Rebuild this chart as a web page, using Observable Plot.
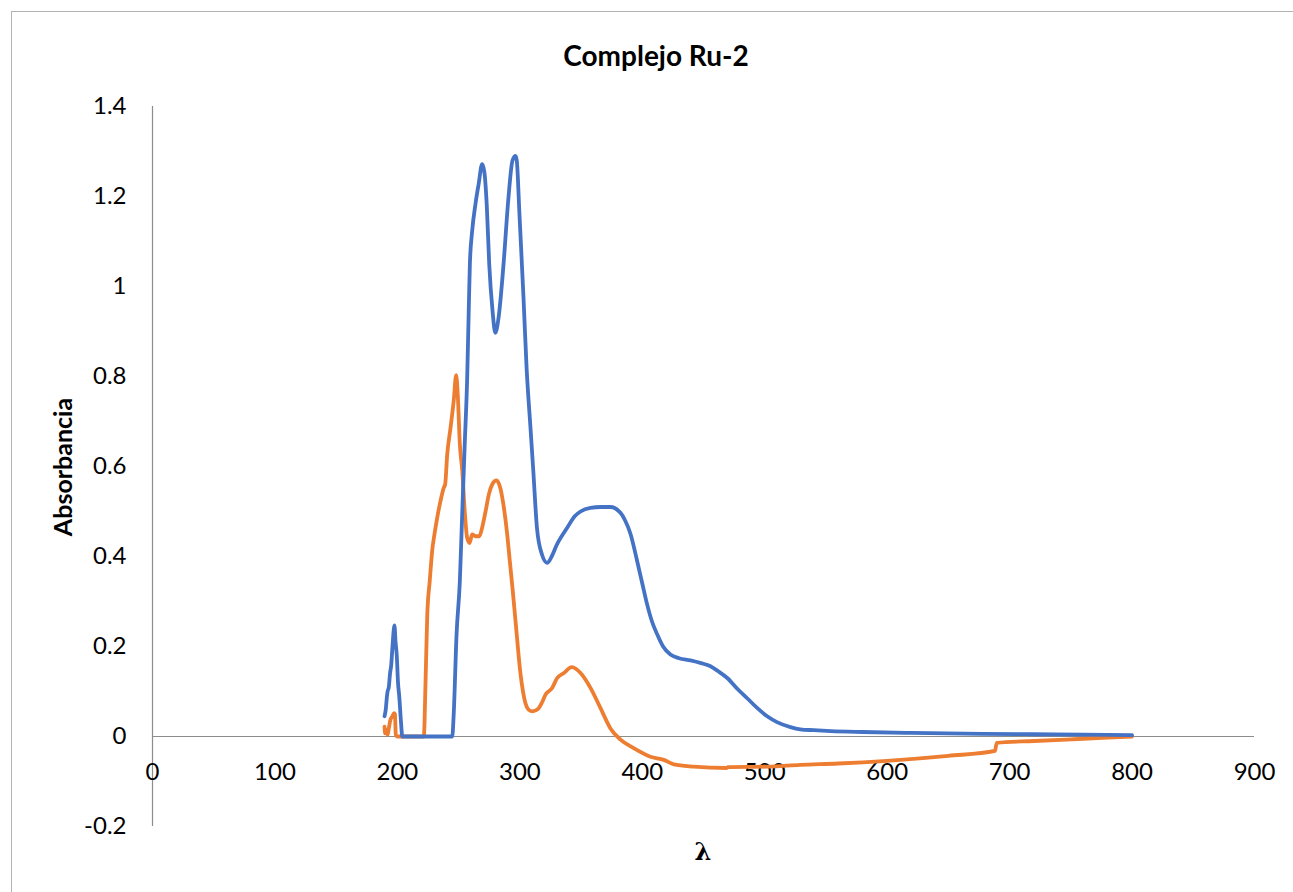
<!DOCTYPE html>
<html>
<head>
<meta charset="utf-8">
<script src="https://cdn.jsdelivr.net/npm/d3@7"></script>
<script src="https://cdn.jsdelivr.net/npm/@observablehq/plot@0.6"></script>
<style>
  html, body { margin: 0; padding: 0; background: #fff; overflow: hidden; }
  #wrap { position: relative; width: 1293px; height: 892px; font-family: Lato, "Open Sans", sans-serif; }
  #frame { position: absolute; left: 11px; top: 11px; width: 1310px; height: 910px; border: 1.5px solid #b3b3b3; box-sizing: border-box; }
  #chart { position: absolute; left: 0; top: 0; }
  .lbl { position: absolute; color: #000; font-weight: bold; white-space: nowrap; }
  #title { left: 656px; top: 55px; transform: translate(-50%, -50%); font-size: 28px; }
  #ylab { left: 62px; top: 467px; transform: translate(-50%, -50%) rotate(-90deg); font-size: 25px; }
  #xlab { left: 703px; top: 851px; transform: translate(-50%, -50%); font-size: 24px; font-family: "DejaVu Serif", serif; }
</style>
</head>
<body>
<div id="wrap">
  <div id="frame"></div>
  <div id="chart"></div>
  <div id="title" class="lbl">Complejo Ru-2</div>
  <div id="ylab" class="lbl">Absorbancia</div>
  <div id="xlab" class="lbl">λ</div>
</div>
<script>
// Tick labels
const xTicks = [0, 100, 200, 300, 400, 500, 600, 700, 800, 900];
const yTicks = [-0.2, 0, 0.2, 0.4, 0.6, 0.8, 1, 1.2, 1.4];

// Series 1 (blue)
const blueX = [189.5,190.5,191.5,192,193,194,195,196,197.6,198.5,199.5,200.5,201.5,203,204,210,220,230,240,244.8,246,248.3,251,253,255,257,258.3,259.2,261.1,263.8,266.5,269.2,271,273,275,277.7,280,282.6,286.7,290.7,294,296.5,297.5,299.7,303,305.5,308.7,311,314,318,322.3,326,330,338.7,345,349.6,357.7,366,374,382.2,386,390.4,395.8,400,404,408,412.2,417,423,430,439.4,448,455.7,462,469.4,478,485.7,494,502,510,521,529,540,554,580,620,678,720,760,800];
const blueY = [0.045,0.06,0.09,0.10,0.11,0.14,0.16,0.20,0.247,0.21,0.18,0.12,0.09,0.03,0,0,0,0,0,0,0.05,0.226,0.345,0.5,0.65,0.797,0.95,1.05,1.124,1.184,1.23,1.272,1.255,1.18,1.05,0.946,0.897,0.93,1.05,1.197,1.28,1.29,1.28,1.16,0.975,0.82,0.686,0.59,0.463,0.405,0.386,0.40,0.425,0.464,0.49,0.50,0.508,0.51,0.51,0.497,0.48,0.45,0.39,0.34,0.293,0.255,0.227,0.20,0.182,0.174,0.169,0.163,0.156,0.145,0.13,0.105,0.085,0.063,0.045,0.032,0.021,0.016,0.014,0.012,0.010,0.008,0.006,0.005,0.004,0.003];

// Series 2 (orange)
const orangeX = [189.5,190,191,192,193,194.3,196,197.3,198,198.7,200,210,221.6,223,224.4,226.4,228.7,229.8,232.5,235.2,237.9,239,240.7,243.4,246,248,249.3,251,253,255,257,259,261,263.8,267,269.2,272,274.7,277.4,280.9,284,287,289.7,291.8,294,296.5,300.6,304.6,307,310,313,315.5,318,321,326.4,330.5,336,342.3,346,349.6,357.7,365.9,374,382.2,393,406.7,417.6,425.8,442,469,470,502,529,560,600,650,688,689.5,720,760,800];
const orangeY = [0.022,0.007,0.015,0.004,0.018,0.037,0.045,0.052,0.05,0.004,0,0,0,0.122,0.27,0.345,0.42,0.441,0.486,0.523,0.553,0.56,0.627,0.686,0.746,0.803,0.76,0.65,0.59,0.50,0.441,0.43,0.449,0.445,0.445,0.464,0.50,0.538,0.56,0.569,0.553,0.508,0.449,0.39,0.33,0.256,0.138,0.074,0.060,0.056,0.058,0.063,0.075,0.093,0.108,0.13,0.141,0.154,0.15,0.141,0.108,0.063,0.018,-0.007,-0.026,-0.045,-0.052,-0.062,-0.067,-0.070,-0.068,-0.067,-0.063,-0.060,-0.054,-0.043,-0.032,-0.014,-0.010,-0.005,0.000];

const blue = blueX.map((x, i) => ({x, y: blueY[i]}));
const orange = orangeX.map((x, i) => ({x, y: orangeY[i]}));

const fmt = d => String(+d.toFixed(1));

const chart = Plot.plot({
  width: 1293,
  height: 892,
  marginLeft: 152,
  marginRight: 39,
  marginTop: 106,
  marginBottom: 66,
  style: { fontFamily: "Lato, 'Open Sans', sans-serif", fontSize: "24px", color: "#000", background: "transparent", overflow: "visible" },
  x: { domain: [0, 900], axis: null },
  y: { domain: [-0.2, 1.4], axis: null },
  marks: [
    Plot.ruleY([0], { x1: 0, x2: 900, stroke: "#8c8c8c", strokeWidth: 1.2 }),
    Plot.ruleX([0], { y1: -0.2, y2: 1.4, stroke: "#8c8c8c", strokeWidth: 1.2 }),
    Plot.axisY({ ticks: yTicks, tickSize: 0, tickPadding: 26, tickFormat: fmt, label: null, fontSize: 24 }),
    Plot.text(xTicks, { x: d => d, y: 0, dy: 36, text: d => String(d), textAnchor: "middle", lineAnchor: "middle", fontSize: 24, fill: "#000" }),
    Plot.line(orange, { x: "x", y: "y", stroke: "#ED7D31", strokeWidth: 3.8, strokeLinejoin: "round", strokeLinecap: "round", curve: "monotone-x" }),
    Plot.line(blue, { x: "x", y: "y", stroke: "#4472C4", strokeWidth: 3.8, strokeLinejoin: "round", strokeLinecap: "round", curve: "monotone-x" })
  ]
});
document.getElementById("chart").appendChild(chart);
</script>
</body>
</html>
